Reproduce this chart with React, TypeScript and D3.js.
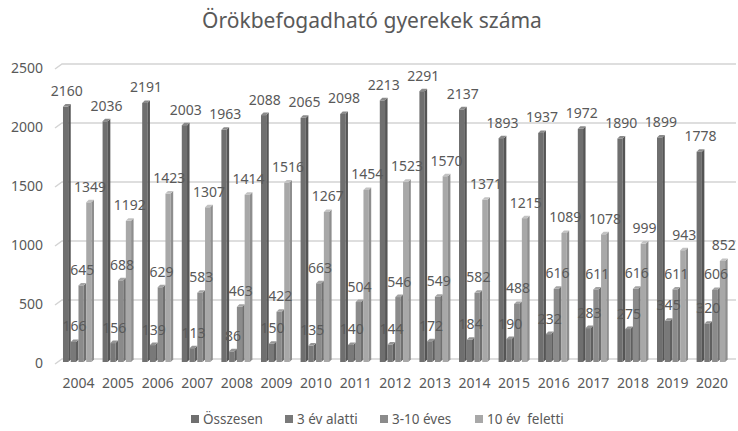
import React from 'react';
import * as d3 from 'd3';

const years = ['2004', '2005', '2006', '2007', '2008', '2009', '2010', '2011', '2012', '2013', '2014', '2015', '2016', '2017', '2018', '2019', '2020'];
const seriesNames = ['Összesen', '3 év alatti', '3-10 éves', '10 év  feletti'];
const osszesen = [2160, 2036, 2191, 2003, 1963, 2088, 2065, 2098, 2213, 2291, 2137, 1893, 1937, 1972, 1890, 1899, 1778];
const alatti3 = [166, 156, 139, 113, 86, 150, 135, 140, 144, 172, 184, 190, 232, 283, 275, 345, 320];
const eves3_10 = [645, 688, 629, 583, 463, 422, 663, 504, 546, 549, 582, 488, 616, 611, 616, 611, 606];
const feletti10 = [1349, 1192, 1423, 1307, 1414, 1516, 1267, 1454, 1523, 1570, 1371, 1215, 1089, 1078, 999, 943, 852];
const yTicks = [0, 500, 1000, 1500, 2000, 2500];

const series = [osszesen, alatti3, eves3_10, feletti10];
const front = ['#6f6f6f', '#797979', '#8b8b8b', '#a8a8a8'];
const side = ['#555555', '#5f5f5f', '#707070', '#8e8e8e'];
const topc = ['#8a8a8a', '#939393', '#a4a4a4', '#c2c2c2'];
const textColor = '#595959';
const font = '"Noto Sans", sans-serif';

const W = 738;
const H = 431;

export default function App() {
  const x = d3.scaleBand<string>().domain(years).range([61, 729.6]).paddingInner(0.217).paddingOuter(0.05);
  const sub = d3.scaleBand<number>().domain([0, 1, 2, 3]).range([0, x.bandwidth()]);
  const y = d3.scaleLinear().domain([0, 2500]).range([359, 64]);
  const depth = 2.5;
  const bw = sub.bandwidth() - depth;

  return (
    <svg width={W} height={H} style={{ position: 'absolute', left: 0, top: 0, background: '#fff' }} fontFamily={font}>
      <text x={372} y={28} textAnchor="middle" fontSize={21} fill={textColor}>
        Örökbefogadható gyerekek száma
      </text>

      {yTicks.map(t => (
        <g key={t}>
          <polyline
            points={`55,${y(t) + 5} 62,${y(t)} 736,${y(t)}`}
            fill="none"
            stroke="#d4d4d4"
            strokeWidth={1.5}
          />
          <text x={43} y={y(t) + 5} textAnchor="end" dominantBaseline="middle" fontSize={14} fill={textColor}>
            {t}
          </text>
        </g>
      ))}

      {years.map((yr, i) => (
        <g key={yr}>
          {series.map((s, k) => {
            const x0 = (x(yr) as number) + (sub(k) as number);
            const yt = y(s[i]) + depth;
            const yb = y(0) + 3;
            return (
              <g key={k}>
                <rect x={x0} y={yt} width={bw} height={yb - yt} fill={front[k]} />
                <polygon
                  points={`${x0 + bw},${yt} ${x0 + bw + depth},${yt - depth} ${x0 + bw + depth},${yb - depth} ${x0 + bw},${yb}`}
                  fill={side[k]}
                />
                <polygon
                  points={`${x0},${yt} ${x0 + depth},${yt - depth} ${x0 + bw + depth},${yt - depth} ${x0 + bw},${yt}`}
                  fill={topc[k]}
                />
              </g>
            );
          })}
        </g>
      ))}

      {years.map((yr, i) => (
        <g key={'l' + yr}>
          {series.map((s, k) => (
            <text
              key={k}
              x={(x(yr) as number) + (sub(k) as number) + sub.bandwidth() / 2}
              y={y(s[i]) - 8}
              textAnchor="middle"
              fontSize={14}
              fill={textColor}
            >
              {s[i]}
            </text>
          ))}
          <text
            x={(x(yr) as number) + x.bandwidth() / 2}
            y={388}
            textAnchor="middle"
            fontSize={14}
            fill={textColor}
          >
            {yr}
          </text>
        </g>
      ))}

      {seriesNames.map((name, k) => {
        const lx = [191, 285, 380, 475][k];
        return (
          <g key={name}>
            <rect x={lx} y={415} width={8} height={8} fill={front[k]} />
            <text x={lx + 12} y={423.5} fontSize={13.5} fill={textColor} style={{ whiteSpace: 'pre' }}>
              {name}
            </text>
          </g>
        );
      })}
    </svg>
  );
}
